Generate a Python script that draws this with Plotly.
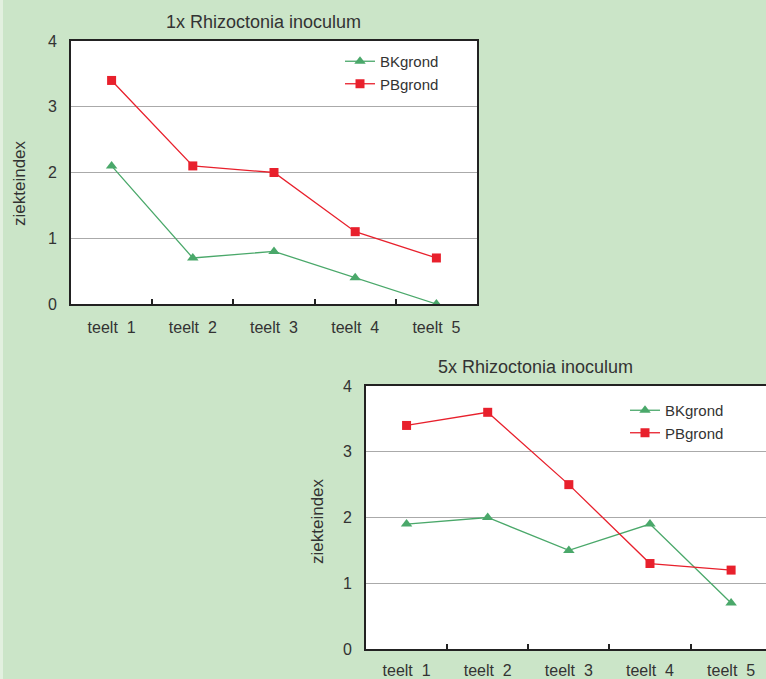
import plotly.graph_objects as go

categories = ["teelt 1", "teelt 2", "teelt 3", "teelt 4", "teelt 5"]
tick_labels = ["teelt  1", "teelt  2", "teelt  3", "teelt  4", "teelt  5"]
bk_1x = [2.1, 0.7, 0.8, 0.4, 0.0]
pb_1x = [3.4, 2.1, 2.0, 1.1, 0.7]
bk_5x = [1.9, 2.0, 1.5, 1.9, 0.7]
pb_5x = [3.4, 3.6, 2.5, 1.3, 1.2]
y_ticks = [0, 1, 2, 3, 4]

GREEN = "#4aa86a"
RED = "#e8202c"
BG = "#cbe5c8"
TXT = "#333333"
FONT = "Liberation Sans Narrow, Arial Narrow, sans-serif"

W, H = 766, 679
fig = go.Figure()

def add_series(x, y, name, color, symbol, xa, ya, legend):
    fig.add_trace(go.Scatter(
        x=x, y=y, name=name, mode="lines+markers",
        line=dict(color=color, width=1.3),
        marker=dict(symbol=symbol, size=10 if symbol == "triangle-up" else 9, color=color),
        xaxis=xa, yaxis=ya, legend=legend))

add_series(categories, bk_1x, "BKgrond", GREEN, "triangle-up", "x", "y", "legend")
add_series(categories, pb_1x, "PBgrond", RED, "square", "x", "y", "legend")
add_series(categories, bk_5x, "BKgrond", GREEN, "triangle-up", "x2", "y2", "legend2")
add_series(categories, pb_5x, "PBgrond", RED, "square", "x2", "y2", "legend2")

def px_x(p):
    return p / W

def px_y(p):
    return 1 - p / H

xcommon = dict(
    type="category", tickmode="array", tickvals=categories, ticktext=tick_labels,
    tickson="boundaries", ticks="inside", ticklen=5, tickcolor="#222", tickwidth=1.5,
    showline=True, linecolor="#222", linewidth=2, mirror=True, showgrid=False,
    tickfont=dict(family=FONT, size=16, color=TXT), fixedrange=True,
    automargin=False,
)
ycommon = dict(
    range=[0, 4], tickvals=y_ticks, ticks="outside", ticklen=9, tickcolor="rgba(0,0,0,0)",
    showline=True, linecolor="#222", linewidth=2, showgrid=True, gridcolor="#aaaaaa",
    gridwidth=1.2, zeroline=False, tickfont=dict(family=FONT, size=16, color=TXT),
    automargin=False,
)

fig.update_layout(
    width=W, height=H,
    paper_bgcolor=BG, plot_bgcolor="white",
    margin=dict(l=0, r=0, t=0, b=0, autoexpand=False),
    showlegend=True,
    xaxis=dict(domain=[px_x(71), px_x(477)], anchor="y", range=[-0.5, 4.5],
               ticklabelstandoff=8, **xcommon),
    yaxis=dict(domain=[px_y(304), px_y(41)], anchor="x", mirror=True, **ycommon),
    xaxis2=dict(domain=[px_x(366), 1.0], anchor="y2", range=[-0.5, 4.43],
                ticklabelstandoff=6, **xcommon),
    yaxis2=dict(domain=[px_y(649), px_y(386)], anchor="x2", mirror=False, **ycommon),
    legend=dict(x=px_x(340), y=px_y(45), xanchor="left", yanchor="top",
                bgcolor="rgba(0,0,0,0)", font=dict(family=FONT, size=15, color=TXT),
                tracegroupgap=0, itemwidth=30),
    legend2=dict(x=px_x(625), y=px_y(394), xanchor="left", yanchor="top",
                 bgcolor="rgba(0,0,0,0)", font=dict(family=FONT, size=15, color=TXT),
                 tracegroupgap=0, itemwidth=30),
    annotations=[
        dict(text="1x Rhizoctonia inoculum", x=px_x(263), y=px_y(22), xref="paper", yref="paper",
             showarrow=False, xanchor="center", yanchor="middle",
             font=dict(family=FONT, size=18, color=TXT)),
        dict(text="5x Rhizoctonia inoculum", x=px_x(535), y=px_y(367), xref="paper", yref="paper",
             showarrow=False, xanchor="center", yanchor="middle",
             font=dict(family=FONT, size=18, color=TXT)),
        dict(text="ziekteindex", x=px_x(20), y=px_y(183), xref="paper", yref="paper",
             showarrow=False, textangle=-90, xanchor="center", yanchor="middle",
             font=dict(family=FONT, size=17, color=TXT)),
        dict(text="ziekteindex", x=px_x(317), y=px_y(521), xref="paper", yref="paper",
             showarrow=False, textangle=-90, xanchor="center", yanchor="middle",
             font=dict(family=FONT, size=17, color=TXT)),
    ],
    shapes=[
        dict(type="rect", xref="paper", yref="paper", x0=0, x1=px_x(3), y0=0, y1=1,
             fillcolor="#e2f0df", line=dict(width=0), layer="below"),
    ],
)

fig.write_html("out.html", config={"displayModeBar": False})

with open("out.html", "r", encoding="utf-8") as f:
    html = f.read()
html = html.replace("<head>", "<head><style>html,body{margin:0;padding:0;overflow:hidden;}</style>", 1)
with open("out.html", "w", encoding="utf-8") as f:
    f.write(html)
